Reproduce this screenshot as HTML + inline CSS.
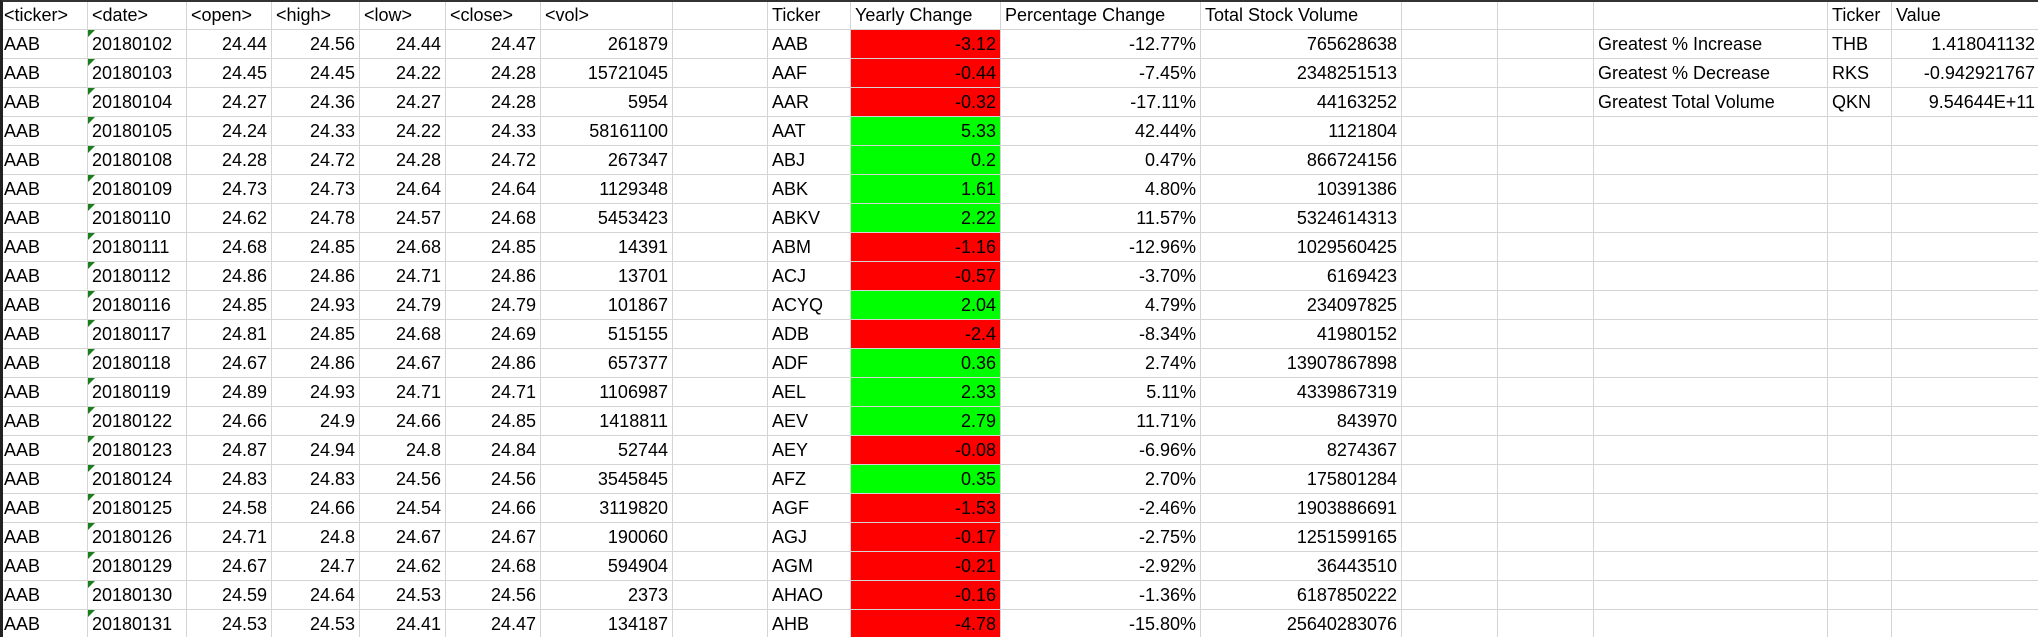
<!DOCTYPE html>
<html><head><meta charset="utf-8">
<style>
html,body{margin:0;padding:0;background:#fff;}
#sheet{position:relative;width:2038px;height:637px;overflow:hidden;font-family:"Liberation Sans",Arial,sans-serif;font-size:18px;color:#000;border-top:2px solid #333;border-left:3px solid #222;box-sizing:border-box;}
.c{position:absolute;box-sizing:border-box;border-right:1px solid #d4d4d4;border-bottom:1px solid #d4d4d4;white-space:nowrap;overflow:visible;padding:0 4px 3px 4px;display:flex;align-items:flex-end;height:29px;}
.r{justify-content:flex-end;}
.red{background:#ff0000;}
.green{background:#00ff00;}
.tri{position:absolute;left:0;top:0;width:0;height:0;border-top:7px solid #1a7f1a;border-right:7px solid transparent;}
</style></head>
<body>
<div id="sheet"></div>
<script>
const cols=[0,88,187,272,360,446,541,673,768,851,1001,1201,1402,1498,1594,1828,1892,2040];
const dates=["20180102","20180103","20180104","20180105","20180108","20180109","20180110","20180111","20180112","20180116","20180117","20180118","20180119","20180122","20180123","20180124","20180125","20180126","20180129","20180130","20180131"];
const opens=["24.44","24.45","24.27","24.24","24.28","24.73","24.62","24.68","24.86","24.85","24.81","24.67","24.89","24.66","24.87","24.83","24.58","24.71","24.67","24.59","24.53"];
const highs=["24.56","24.45","24.36","24.33","24.72","24.73","24.78","24.85","24.86","24.93","24.85","24.86","24.93","24.9","24.94","24.83","24.66","24.8","24.7","24.64","24.53"];
const lows=["24.44","24.22","24.27","24.22","24.28","24.64","24.57","24.68","24.71","24.79","24.68","24.67","24.71","24.66","24.8","24.56","24.54","24.67","24.62","24.53","24.41"];
const closes=["24.47","24.28","24.28","24.33","24.72","24.64","24.68","24.85","24.86","24.79","24.69","24.86","24.71","24.85","24.84","24.56","24.66","24.67","24.68","24.56","24.47"];
const vols=["261879","15721045","5954","58161100","267347","1129348","5453423","14391","13701","101867","515155","657377","1106987","1418811","52744","3545845","3119820","190060","594904","2373","134187"];
const tickers=["AAB","AAF","AAR","AAT","ABJ","ABK","ABKV","ABM","ACJ","ACYQ","ADB","ADF","AEL","AEV","AEY","AFZ","AGF","AGJ","AGM","AHAO","AHB"];
const yearly=["-3.12","-0.44","-0.32","5.33","0.2","1.61","2.22","-1.16","-0.57","2.04","-2.4","0.36","2.33","2.79","-0.08","0.35","-1.53","-0.17","-0.21","-0.16","-4.78"];
const pcts=["-12.77%","-7.45%","-17.11%","42.44%","0.47%","4.80%","11.57%","-12.96%","-3.70%","4.79%","-8.34%","2.74%","5.11%","11.71%","-6.96%","2.70%","-2.46%","-2.75%","-2.92%","-1.36%","-15.80%"];
const totals=["765628638","2348251513","44163252","1121804","866724156","10391386","5324614313","1029560425","6169423","234097825","41980152","13907867898","4339867319","843970","8274367","175801284","1903886691","1251599165","36443510","6187850222","25640283076"];
const sumLabels=["Greatest % Increase","Greatest % Decrease","Greatest Total Volume"];
const sumTickers=["THB","RKS","QKN"];
const sumValues=["1.418041132","-0.942921767","9.54644E+11"];
const ROWH=29, HEAD=30;
const sheet=document.getElementById('sheet');
function cell(ci,ri,text,right,cls,name){
  const d=document.createElement('div');
  d.className='c'+(right?' r':'')+(cls?' '+cls:'');
  const top=ri===0?-2:HEAD+(ri-1)*ROWH-2;
  d.style.left=(cols[ci]-3)+'px';
  d.style.top=top+'px';
  d.style.width=(cols[ci+1]-cols[ci])+'px';
  d.style.height=(ri===0?HEAD:ROWH)+'px';
  d.textContent=text;
  
  
  sheet.appendChild(d);
  return d;
}
const heads=["<ticker>","<date>","<open>","<high>","<low>","<close>","<vol>","","Ticker","Yearly Change","Percentage Change","Total Stock Volume","","","","Ticker","Value"];
for(let i=0;i<17;i++){cell(i,0,heads[i],false,'','header-cell');}
for(let r=0;r<22;r++){
  const ri=r+1;
  if(r<21){
    cell(0,ri,"AAB",false,'','ticker-cell');
    const dc=cell(1,ri,dates[r],false,'','date-cell');
    const t=document.createElement('div');t.className='tri';
    
    
    dc.appendChild(t);
    cell(2,ri,opens[r],true,'','open-cell');
    cell(3,ri,highs[r],true,'','high-cell');
    cell(4,ri,lows[r],true,'','low-cell');
    cell(5,ri,closes[r],true,'','close-cell');
    cell(6,ri,vols[r],true,'','vol-cell');
    cell(7,ri,"",false,'','empty-cell');
    cell(8,ri,tickers[r],false,'','summary-ticker-cell');
    cell(9,ri,yearly[r],true,parseFloat(yearly[r])<0?'red':'green','yearly-change-cell');
    cell(10,ri,pcts[r],true,'','percent-change-cell');
    cell(11,ri,totals[r],true,'','total-volume-cell');
    cell(12,ri,"",false,'','empty-cell');
    cell(13,ri,"",false,'','empty-cell');
    cell(14,ri,r<3?sumLabels[r]:"",false,'','greatest-label-cell');
    cell(15,ri,r<3?sumTickers[r]:"",false,'','greatest-ticker-cell');
    cell(16,ri,r<3?sumValues[r]:"",true,'','greatest-value-cell');
  }
}
</script>
</body></html>
